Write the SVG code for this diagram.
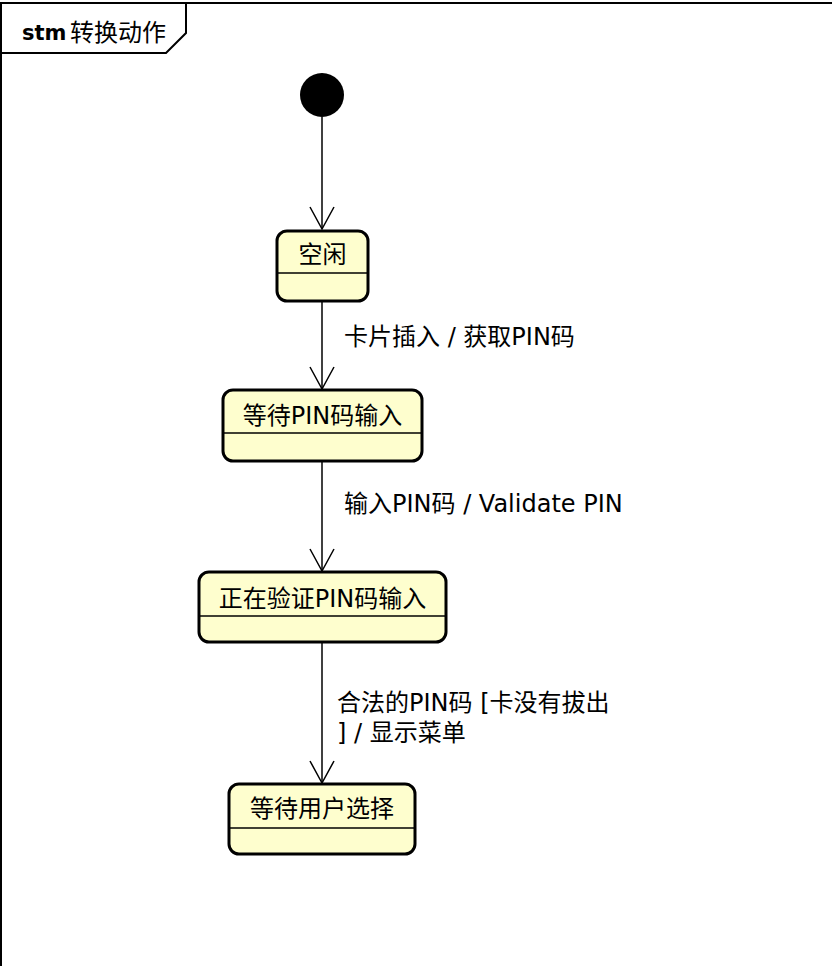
<svg xmlns="http://www.w3.org/2000/svg" width="832" height="966" viewBox="0 0 832 966">
<style>
.frame{fill:none;stroke:#000;stroke-width:2}
.state rect{fill:#FEFECE;stroke:#000;stroke-width:3}
.state line{stroke:#000;stroke-width:1.5}
.t{font-family:"DejaVu Sans","Noto Sans CJK SC",sans-serif;font-size:24px;fill:#000}
.c{text-anchor:middle}
.conn{stroke:#000;stroke-width:1.5;fill:none}
</style>
<defs>
<marker id="arr" markerUnits="userSpaceOnUse" viewBox="-25 -15 30 30" markerWidth="30" markerHeight="30" refX="0" refY="0" orient="auto" overflow="visible">
<path d="M -22 -12 L 0 0 L -22 12" fill="none" stroke="#000" stroke-width="1.5"/>
</marker>
</defs>
<rect width="832" height="966" fill="#fff"/>
<g id="frame">
<path class="frame" d="M 1 966 L 1 3 L 832 3"/>
<path class="frame" d="M 1 53 L 166 53 L 186 33 L 186 3"/>
<text class="t" x="22" y="40" font-weight="bold" style="font-size:21px">stm</text>
<text class="t" x="70" y="41">转换动作</text>
</g>
<g id="connectors">
<path class="conn" d="M 322 117 L 322 229" marker-end="url(#arr)"/>
<path class="conn" d="M 322 302 L 322 389" marker-end="url(#arr)"/>
<path class="conn" d="M 322 462 L 322 571" marker-end="url(#arr)"/>
<path class="conn" d="M 322 643 L 322 783" marker-end="url(#arr)"/>
<text class="t" x="344" y="345">卡片插入 / 获取PIN码</text>
<text class="t" x="344" y="512">输入PIN码 / Validate PIN</text>
<text class="t" x="337" y="711">合法的PIN码 [卡没有拔出</text>
<text class="t" x="337" y="741">] / 显示菜单</text>
</g>
<g id="initial">
<circle cx="322" cy="95" r="22" fill="#000"/>
</g>
<g id="s1" class="state">
<rect x="277" y="231" width="91" height="70" rx="10"/>
<line x1="277" y1="273" x2="368" y2="273"/>
<text class="t c" x="322.5" y="263">空闲</text>
</g>
<g id="s2" class="state">
<rect x="223" y="390" width="199" height="71" rx="10"/>
<line x1="223" y1="433" x2="422" y2="433"/>
<text class="t c" x="322.5" y="424">等待PIN码输入</text>
</g>
<g id="s3" class="state">
<rect x="199" y="572" width="247" height="70" rx="10"/>
<line x1="199" y1="616" x2="446" y2="616"/>
<text class="t c" x="322.5" y="607">正在验证PIN码输入</text>
</g>
<g id="s4" class="state">
<rect x="229" y="784" width="186" height="70" rx="10"/>
<line x1="229" y1="828" x2="415" y2="828"/>
<text class="t c" x="322" y="817">等待用户选择</text>
</g>
</svg>
